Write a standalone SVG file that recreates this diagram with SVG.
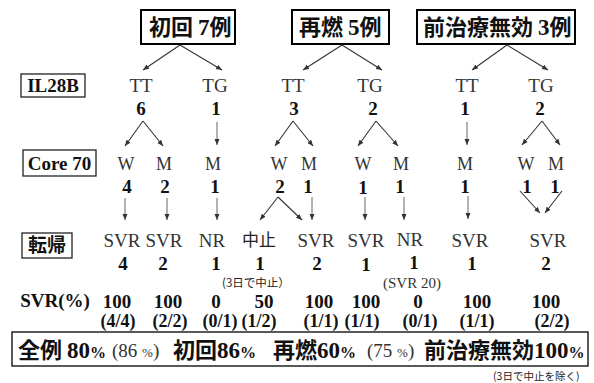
<svg xmlns="http://www.w3.org/2000/svg" width="594" height="383" viewBox="0 0 594 383">
<style>
.box{fill:none;stroke:#000;stroke-width:2}
.hd{font-family:"Noto Sans CJK JP",sans-serif;font-weight:bold;font-size:22px;fill:#111}
.hdn{font-family:"Liberation Serif",serif;font-weight:bold;font-size:23px;fill:#111}
.side{font-family:"Liberation Serif",serif;font-weight:bold;font-size:19px;fill:#111;text-anchor:middle}
.sidej{font-family:"Noto Sans CJK JP",sans-serif;font-weight:bold;font-size:19px;fill:#111;text-anchor:middle}
.lb{font-family:"Liberation Serif",serif;font-size:19px;fill:#333;text-anchor:middle}
.lbc{font-family:"Liberation Serif",serif;font-size:18px;fill:#333;text-anchor:middle}
.lbj{font-family:"Noto Sans CJK JP",sans-serif;font-size:17px;fill:#222;text-anchor:middle}
.n{font-family:"Liberation Serif",serif;font-weight:bold;font-size:19px;fill:#111;text-anchor:middle}
.f{font-family:"Liberation Serif",serif;font-weight:bold;font-size:18px;fill:#111;text-anchor:middle}
.sm{font-family:"Noto Sans CJK JP",sans-serif;font-size:11.5px;fill:#222}
.bj{font-family:"Noto Sans CJK JP",sans-serif;font-weight:bold;font-size:22px;fill:#111}
.bn{font-family:"Liberation Serif",serif;font-weight:bold;font-size:23px;fill:#111}
.bp{font-family:"Liberation Serif",serif;font-weight:bold;font-size:16px;fill:#111}
.pr{font-family:"Liberation Serif",serif;font-size:19px;fill:#333}
.prp{font-family:"Liberation Serif",serif;font-size:13px;fill:#333}
.cn{fill:none;stroke:#333;stroke-width:1.1}
.dn{fill:none;stroke:#666;stroke-width:1}
</style>
<defs>
<marker id="ah" markerWidth="6" markerHeight="6" refX="6" refY="3" orient="auto" markerUnits="userSpaceOnUse">
<path d="M0,0.5 L6,3 L0,5.5 z" fill="#333"/>
</marker>
</defs>

<g id="grp-shokai">
<rect class="box" x="141" y="10" width="94" height="34"/>
<text x="149" y="35"><tspan class="hd">初回 </tspan><tspan class="hdn">7</tspan><tspan class="hd">例</tspan></text>
</g>
<g id="grp-sainen">
<rect class="box" x="292" y="10" width="97" height="34"/>
<text x="299" y="35"><tspan class="hd">再燃 </tspan><tspan class="hdn">5</tspan><tspan class="hd">例</tspan></text>
</g>
<g id="grp-mukou">
<rect class="box" x="417" y="10" width="158" height="34"/>
<text x="423" y="35"><tspan class="hd">前治療無効 </tspan><tspan class="hdn">3</tspan><tspan class="hd">例</tspan></text>
</g>

<g id="lbl-il28b">
<rect x="21" y="74" width="64" height="23" fill="none" stroke="#222" stroke-width="1.3"/>
<text class="side" x="53" y="92">IL28B</text>
</g>
<g id="lbl-core70">
<rect x="23" y="150" width="73" height="26" fill="none" stroke="#222" stroke-width="1.3"/>
<text class="side" x="59.5" y="170">Core 70</text>
</g>
<g id="lbl-tenki">
<rect x="22" y="233" width="50" height="25" fill="none" stroke="#222" stroke-width="1.3"/>
<text class="sidej" x="47" y="252">転帰</text>
</g>
<g id="lbl-svr">
<text class="side" x="55" y="307">SVR(%)</text>
</g>

<g id="connectors">
<g class="cn" marker-end="url(#ah)">
<path d="M180,45 L143,70"/><path d="M180,45 L222,70"/>
<path d="M342,45 L303,70"/><path d="M342,45 L382,70"/>
<path d="M507,45 L472,70"/><path d="M507,45 L548,70"/>
<path d="M143,121 L125,146"/><path d="M143,121 L163,146"/>
<path d="M293,121 L275,146"/><path d="M293,121 L313,146"/>
<path d="M376,121 L358,146"/><path d="M376,121 L398,146"/>
<path d="M542,121 L522,145"/><path d="M542,121 L560,145"/>
<path d="M278,197 L260,220"/><path d="M278,197 L302,220"/>
<path d="M520,191 L540,213"/><path d="M562,191 L545,213"/>
</g>
<g class="dn" marker-end="url(#ah)">
<path d="M217,122 L217,145"/>
<path d="M467,122 L467,145"/>
<path d="M125,198 L125,220"/>
<path d="M167,198 L167,220"/>
<path d="M217,198 L217,220"/>
<path d="M312,197 L312,220"/>
<path d="M365,197 L365,220"/>
<path d="M404,197 L404,220"/>
<path d="M468,196 L468,219"/>
</g>
</g>

<g id="il28b-row">
<text class="lb" x="141" y="92">TT</text>
<text class="lb" x="215" y="92">TG</text>
<text class="lb" x="293" y="92">TT</text>
<text class="lb" x="370" y="92">TG</text>
<text class="lb" x="467" y="92">TT</text>
<text class="lb" x="541" y="92">TG</text>
<text class="n" x="141" y="115">6</text>
<text class="n" x="216" y="115">1</text>
<text class="n" x="294" y="115">3</text>
<text class="n" x="373" y="115">2</text>
<text class="n" x="465" y="115">1</text>
<text class="n" x="540" y="115">2</text>
</g>

<g id="core-row">
<text class="lbc" x="126" y="170">W</text>
<text class="lbc" x="164" y="170">M</text>
<text class="lbc" x="213" y="170">M</text>
<text class="lbc" x="279" y="170">W</text>
<text class="lbc" x="309" y="170">M</text>
<text class="lbc" x="363" y="170">W</text>
<text class="lbc" x="401" y="170">M</text>
<text class="lbc" x="465" y="170">M</text>
<text class="lbc" x="526" y="170">W</text>
<text class="lbc" x="556" y="170">M</text>
<text class="n" x="127" y="193">4</text>
<text class="n" x="165" y="193">2</text>
<text class="n" x="215" y="193">1</text>
<text class="n" x="280" y="193">2</text>
<text class="n" x="308" y="193">1</text>
<text class="n" x="363" y="194">1</text>
<text class="n" x="400" y="193">1</text>
<text class="n" x="465" y="193">1</text>
<text class="n" x="527" y="193">1</text>
<text class="n" x="555" y="193">1</text>
</g>

<g id="outcome-row">
<text class="lb" x="122" y="247">SVR</text>
<text class="lb" x="164" y="247">SVR</text>
<text class="lb" x="212" y="247">NR</text>
<text class="lbj" x="259" y="246">中止</text>
<text class="lb" x="316" y="247">SVR</text>
<text class="lb" x="366" y="247">SVR</text>
<text class="lb" x="410" y="246">NR</text>
<text class="lb" x="470" y="247">SVR</text>
<text class="lb" x="548" y="247">SVR</text>
<text class="n" x="123" y="270">4</text>
<text class="n" x="163" y="270">2</text>
<text class="n" x="216" y="270">1</text>
<text class="n" x="260" y="270">1</text>
<text class="n" x="317" y="270">2</text>
<text class="n" x="366" y="271">1</text>
<text class="n" x="414" y="269">1</text>
<text class="n" x="472" y="270">1</text>
<text class="n" x="546" y="270">2</text>
<text class="sm" x="222" y="287">(3日で中止）</text>
<text x="383" y="288" font-family="Liberation Serif, Noto Sans CJK JP, serif" font-size="15" fill="#333">(SVR 20)</text>
</g>

<g id="svr-row">
<text class="n" x="117" y="308">100</text>
<text class="n" x="168" y="308">100</text>
<text class="n" x="216" y="308">0</text>
<text class="n" x="264" y="308">50</text>
<text class="n" x="319" y="308">100</text>
<text class="n" x="366" y="308">100</text>
<text class="n" x="418" y="308">0</text>
<text class="n" x="477" y="308">100</text>
<text class="n" x="546" y="308">100</text>
<text class="f" x="118" y="327">(4/4)</text>
<text class="f" x="170" y="327">(2/2)</text>
<text class="f" x="220" y="327">(0/1)</text>
<text class="f" x="259" y="327">(1/2)</text>
<text class="f" x="321" y="327">(1/1)</text>
<text class="f" x="362" y="327">(1/1)</text>
<text class="f" x="420" y="327">(0/1)</text>
<text class="f" x="477" y="327">(1/1)</text>
<text class="f" x="552" y="327">(2/2)</text>
</g>

<g id="summary">
<rect x="12" y="332" width="576" height="34" fill="none" stroke="#222" stroke-width="1.5"/>
<text x="18" y="358"><tspan class="bj">全例 </tspan><tspan class="bn">80</tspan><tspan class="bp">%</tspan></text>
<text x="112" y="357"><tspan class="pr">(86 </tspan><tspan class="prp">%</tspan><tspan class="pr">)</tspan></text>
<text x="173" y="358"><tspan class="bj">初回</tspan><tspan class="bn">86</tspan><tspan class="bp">%</tspan></text>
<text x="273" y="358"><tspan class="bj">再燃</tspan><tspan class="bn">60</tspan><tspan class="bp">%</tspan></text>
<text x="367" y="357"><tspan class="pr">(75 </tspan><tspan class="prp">%</tspan><tspan class="pr">)</tspan></text>
<text x="424" y="358"><tspan class="bj">前治療無効</tspan><tspan class="bn">100</tspan><tspan class="bp">%</tspan></text>
</g>
<text x="493" y="380" font-family="Noto Sans CJK JP, sans-serif" font-size="10.5" fill="#222">(3日で中止を除く)</text>
</svg>
